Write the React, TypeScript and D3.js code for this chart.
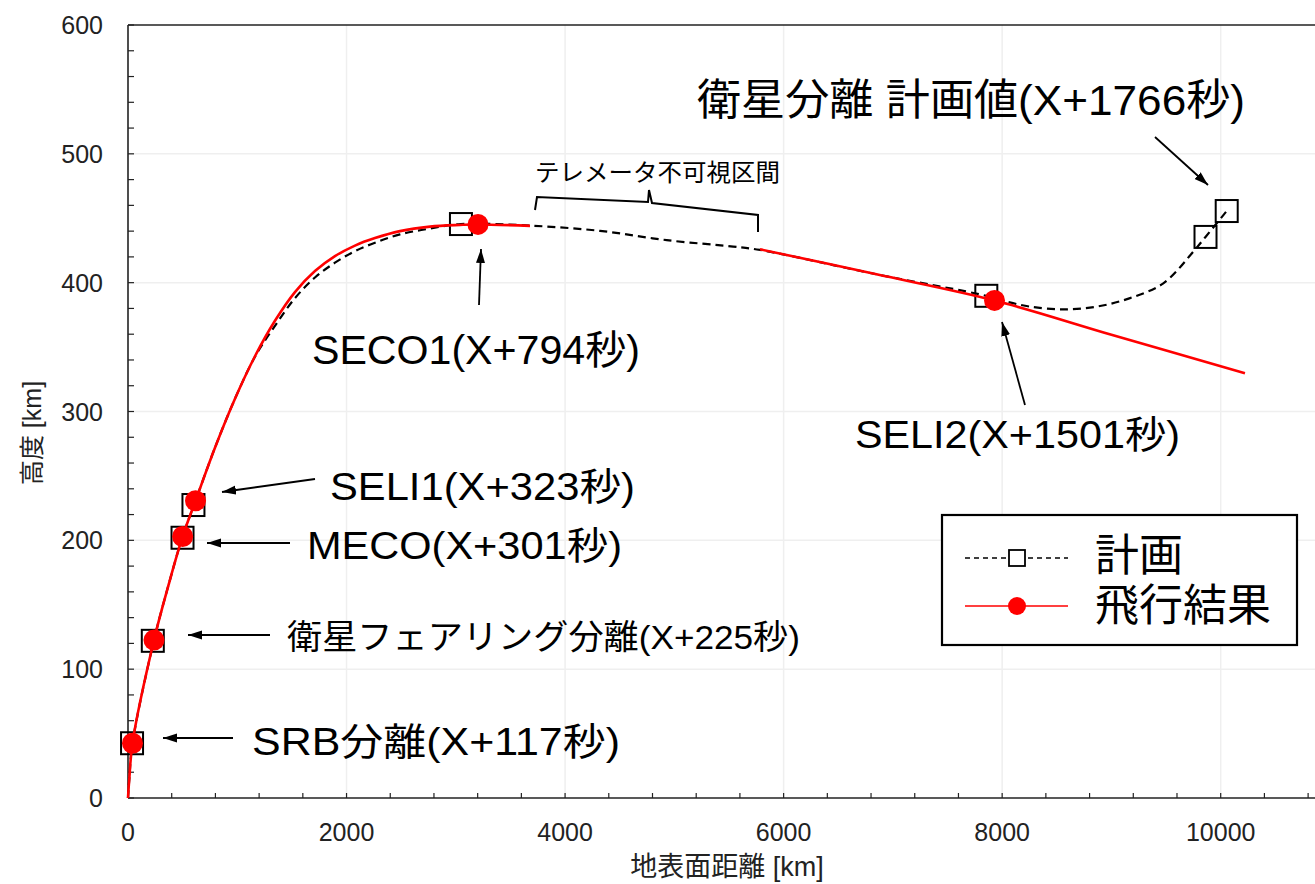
import React from "react";
import * as d3 from "d3";

// ---- data (distance km, altitude km) ----
const planDist = [0, 12, 41, 238, 370, 500, 618, 796, 979, 1162, 1345, 1528, 1711, 1894, 2077, 2260, 2489, 2764, 3047, 3679, 4320, 4930, 5538, 5784, 6850, 7855, 8041, 8254, 8559, 8865, 9170, 9475, 9749, 9861, 10055];
const planAlt = [0, 15, 42.5, 122.6, 165, 203, 230.7, 271.9, 309.9, 342.5, 366.5, 388, 404, 415.5, 424.5, 431, 437.5, 442, 445.5, 444.3, 440.2, 433, 428, 425.4, 406.5, 389.8, 385.3, 381.4, 379.3, 381.4, 388, 399.5, 424, 435.5, 455.6];

const planMarkerDist = [37, 227, 499, 599, 3047, 7855, 9861, 10055];
const planMarkerAlt = [42.5, 122, 202, 227.4, 445.5, 389.8, 435.5, 455.6];

const flightAscentDist = [0, 12, 41, 238, 370, 500, 618, 796, 979, 1162, 1345, 1528, 1711, 1894, 2077, 2260, 2489, 2764, 3038, 3203, 3679];
const flightAscentAlt = [0, 15, 42.5, 122.6, 165, 203, 230.7, 271.9, 309.9, 342.9, 370.4, 392.7, 409, 420.6, 428.8, 434.6, 440, 443.5, 444.8, 445.2, 444.1];
const flightCoastDist = [5784, 6850, 7930, 9000, 10222];
const flightCoastAlt = [425.9, 406.5, 386.2, 359.6, 329.6];

const flightMarkerDist = [41, 238, 500, 618, 3203, 7930];
const flightMarkerAlt = [42.5, 122.6, 203, 230.7, 445.2, 386.2];

const xTicks = [0, 2000, 4000, 6000, 8000, 10000];
const yTicks = [0, 100, 200, 300, 400, 500, 600];

const legendLabels = ["計画", "飛行結果"];
const xTitle = "地表面距離 [km]";
const yTitle = "高度 [km]";
const braceLabel = "テレメータ不可視区間";

// annotations: label text, left x, center y, width, font size ; arrow tail/head
const annotations = [
  { text: "SRB分離(X+117秒)", x: 252, y: 742, w: 368, fs: 38, a: [233, 738, 163, 738] },
  { text: "衛星フェアリング分離(X+225秒)", x: 287, y: 637, w: 513, fs: 34, a: [270, 635, 188, 635] },
  { text: "MECO(X+301秒)", x: 307, y: 546, w: 315, fs: 38, a: [290, 543, 207, 543] },
  { text: "SELI1(X+323秒)", x: 330, y: 487, w: 305, fs: 38, a: [315, 479, 222, 492] },
  { text: "SECO1(X+794秒)", x: 312, y: 350, w: 328, fs: 40, a: [479, 305, 481, 249] },
  { text: "SELI2(X+1501秒)", x: 855, y: 435, w: 325, fs: 38, a: [1025, 405, 1002, 322] },
  { text: "衛星分離 計画値(X+1766秒)", x: 697, y: 100, w: 548, fs: 43, a: [1155, 137, 1208, 185] },
];

const W = 1315;
const H = 884;
const FONT = "'Liberation Sans', Arial, 'Noto Sans CJK JP', sans-serif";

export default function App() {
  const x = d3.scaleLinear().domain([0, 10000]).range([128, 1220.7]);
  const y = d3.scaleLinear().domain([0, 600]).range([798, 25]);
  const xMaxVisible = x.invert(W);

  const line = d3
    .line<[number, number]>()
    .x((d) => x(d[0]))
    .y((d) => y(d[1]))
    .curve(d3.curveCatmullRom.alpha(0.5));

  const planPts = planDist.map((d, i) => [d, planAlt[i]] as [number, number]);
  const ascPts = flightAscentDist.map((d, i) => [d, flightAscentAlt[i]] as [number, number]);
  const coastPts = flightCoastDist.map((d, i) => [d, flightCoastAlt[i]] as [number, number]);

  const xMinor = d3.range(0, xMaxVisible, 400);
  const yMinor = d3.range(0, 601, 20);

  const axisColor = "#222";

  return (
    <div style={{ position: "absolute", left: 0, top: 0 }}>
      <svg width={W} height={H} style={{ display: "block", background: "#fff" }} fontFamily={FONT}>
        <defs>
          <marker id="arr" viewBox="0 0 14 10" refX="14" refY="5" markerWidth="14" markerHeight="10" markerUnits="userSpaceOnUse" orient="auto">
            <path d="M0,0.5 L14,5 L0,9.5 z" fill="#000" />
          </marker>
        </defs>
        {/* grid */}
        {xTicks.filter((t) => t > 0).map((t) => (
          <line key={"gx" + t} x1={x(t)} x2={x(t)} y1={y(0)} y2={y(600)} stroke="#efefef" strokeWidth={1.5} />
        ))}
        {yTicks.filter((t) => t > 0 && t < 600).map((t) => (
          <line key={"gy" + t} x1={x(0)} x2={W} y1={y(t)} y2={y(t)} stroke="#efefef" strokeWidth={1.5} />
        ))}
        {/* axes */}
        <line x1={x(0)} x2={x(0)} y1={y(0)} y2={y(600)} stroke={axisColor} strokeWidth={1.6} />
        <line x1={x(0)} x2={W} y1={y(0)} y2={y(0)} stroke={axisColor} strokeWidth={1.6} />
        <line x1={x(0)} x2={W} y1={y(600)} y2={y(600)} stroke={axisColor} strokeWidth={1.6} />
        {xMinor.map((t) => (
          <line key={"xt" + t} x1={x(t)} x2={x(t)} y1={y(0)} y2={y(0) - 5} stroke={axisColor} strokeWidth={1.2} />
        ))}
        {yMinor.map((t) => (
          <line key={"yt" + t} x1={x(0)} x2={x(0) + 6} y1={y(t)} y2={y(t)} stroke={axisColor} strokeWidth={1.2} />
        ))}
        {xTicks.map((t) => (
          <text key={"xl" + t} x={x(t)} y={832} textAnchor="middle" dominantBaseline="central" fontSize={25} fill="#222">
            {t}
          </text>
        ))}
        {yTicks.map((t) => (
          <text key={"yl" + t} x={103} y={y(t)} textAnchor="end" dominantBaseline="central" fontSize={25} fill="#222">
            {t}
          </text>
        ))}
        <text x={727} y={867} textAnchor="middle" dominantBaseline="central" fontSize={27} fill="#222">
          {xTitle}
        </text>
        <text transform="translate(32,433) rotate(-90)" textAnchor="middle" dominantBaseline="central" fontSize={25} fill="#222">
          {yTitle}
        </text>

        {/* plan */}
        <path d={line(planPts) || ""} fill="none" stroke="#000" strokeWidth={2.2} strokeDasharray="8,5" />
        {planMarkerDist.map((d, i) => (
          <rect key={"pm" + i} x={x(d) - 11} y={y(planMarkerAlt[i]) - 11} width={22} height={22} fill="none" stroke="#000" strokeWidth={2} />
        ))}
        {/* flight */}
        <path d={line(ascPts) || ""} fill="none" stroke="#ff0000" strokeWidth={2.6} />
        <path d={line(coastPts) || ""} fill="none" stroke="#ff0000" strokeWidth={2.6} />
        {flightMarkerDist.map((d, i) => (
          <circle key={"fm" + i} cx={x(d)} cy={y(flightMarkerAlt[i])} r={10.5} fill="#ff0000" />
        ))}

        {/* telemetry brace */}
        <path d="M535,210 L537,197 L648,202 L649,190 L652,203 L758,215 L758,232" fill="none" stroke="#000" strokeWidth={2} />
        <text x={535} y={172} dominantBaseline="central" fontSize={24} textLength={245} lengthAdjust="spacingAndGlyphs" fill="#000">
          {braceLabel}
        </text>

        {/* annotations */}
        {annotations.map((a, i) => (
          <g key={"an" + i}>
            <line x1={a.a[0]} y1={a.a[1]} x2={a.a[2]} y2={a.a[3]} stroke="#000" strokeWidth={1.8} markerEnd="url(#arr)" />
            <text x={a.x} y={a.y} dominantBaseline="central" fontSize={a.fs} textLength={a.w} lengthAdjust="spacingAndGlyphs" fill="#000">
              {a.text}
            </text>
          </g>
        ))}

        {/* legend */}
        <rect x={942} y={515} width={355} height={130} fill="#fff" stroke="#000" strokeWidth={2.2} />
        <line x1={965} x2={1068} y1={558} y2={558} stroke="#000" strokeWidth={1.6} strokeDasharray="5,4" />
        <rect x={1009} y={550} width={16} height={16} fill="#fff" stroke="#000" strokeWidth={1.8} />
        <text x={1095} y={555} dominantBaseline="central" fontSize={44} fill="#000">
          {legendLabels[0]}
        </text>
        <line x1={965} x2={1068} y1={606} y2={606} stroke="#ff0000" strokeWidth={1.6} />
        <circle cx={1017} cy={606} r={9} fill="#ff0000" />
        <text x={1095} y={605} dominantBaseline="central" fontSize={44} fill="#000">
          {legendLabels[1]}
        </text>
      </svg>
    </div>
  );
}
